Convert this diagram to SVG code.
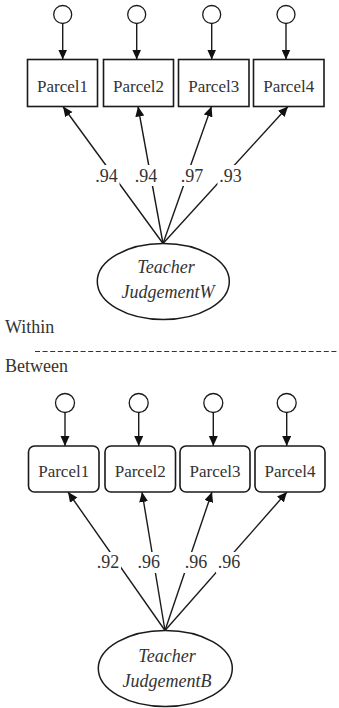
<svg xmlns="http://www.w3.org/2000/svg" width="339" height="708" viewBox="0 0 339 708" font-family="Liberation Serif, DejaVu Serif, serif">
  <style>
    .bg { fill: #ffffff; }
    .err { fill: #ffffff; stroke: #1a1a1a; stroke-width: 1.3; }
    .box { fill: #ffffff; stroke: #1a1a1a; stroke-width: 1.6; }
    .lat { fill: #ffffff; stroke: #1a1a1a; stroke-width: 1.5; }
    .edge { fill: none; stroke: #1a1a1a; stroke-width: 1.4; marker-end: url(#head); }
    .lbl { font-size: 17px; text-anchor: middle; fill: #333333; }
    .coef { font-size: 18px; text-anchor: middle; fill: #333333; }
    .latname { font-size: 18px; font-style: italic; text-anchor: middle; fill: #333333; }
    .level { font-size: 18px; fill: #333333; }
    .knock { fill: #ffffff; stroke: none; }
  </style>
  <defs>
    <marker id="head" markerUnits="userSpaceOnUse" markerWidth="11" markerHeight="10" refX="10" refY="4.5" orient="auto">
      <path d="M0,0 L10,4.5 L0,9 z" fill="#111111"/>
    </marker>
  </defs>

  <rect class="bg" x="0" y="0" width="339" height="708"/>

  <!-- connectors -->
  <g id="connectors">
    <!-- within level: residual arrows -->
    <line class="edge" x1="62.7" y1="23.5" x2="62.7" y2="59.5"/>
    <line class="edge" x1="136.7" y1="23.5" x2="136.7" y2="59.5"/>
    <line class="edge" x1="211.7" y1="23.5" x2="211.7" y2="59.5"/>
    <line class="edge" x1="286" y1="23.5" x2="286" y2="59.5"/>
    <!-- within level: loadings -->
    <line class="edge" x1="163" y1="243.5" x2="63" y2="106.5"/>
    <line class="edge" x1="163" y1="243.5" x2="138" y2="106.5"/>
    <line class="edge" x1="163" y1="243.5" x2="211.5" y2="106.5"/>
    <line class="edge" x1="163" y1="243.5" x2="288" y2="106.5"/>

    <!-- between level: residual arrows -->
    <line class="edge" x1="65" y1="412.5" x2="65" y2="446"/>
    <line class="edge" x1="138.7" y1="412.5" x2="138.7" y2="446"/>
    <line class="edge" x1="213.3" y1="412.5" x2="213.3" y2="446"/>
    <line class="edge" x1="286.7" y1="412.5" x2="286.7" y2="446"/>
    <!-- between level: loadings -->
    <line class="edge" x1="165" y1="630.5" x2="68" y2="492"/>
    <line class="edge" x1="165" y1="630.5" x2="142" y2="492"/>
    <line class="edge" x1="165" y1="630.5" x2="212" y2="492"/>
    <line class="edge" x1="165" y1="630.5" x2="287" y2="492"/>

    <!-- level separator -->
    <line x1="35" y1="351.5" x2="339" y2="351.5" stroke="#333333" stroke-width="1" stroke-dasharray="5 2.6"/>
  </g>

  <!-- loading labels (within) -->
  <g id="loadings-within">
    <rect class="knock" x="93.5" y="165" width="26" height="21"/>
    <text class="coef" x="106.5" y="181.7">.94</text>
    <rect class="knock" x="133" y="165" width="26" height="21"/>
    <text class="coef" x="146" y="181.7">.94</text>
    <rect class="knock" x="179" y="165" width="26" height="21"/>
    <text class="coef" x="192" y="181.7">.97</text>
    <rect class="knock" x="217.5" y="165" width="26" height="21"/>
    <text class="coef" x="230.5" y="181.7">.93</text>
  </g>

  <!-- loading labels (between) -->
  <g id="loadings-between">
    <rect class="knock" x="95" y="552" width="26" height="21"/>
    <text class="coef" x="108" y="568.3">.92</text>
    <rect class="knock" x="135.7" y="552" width="26" height="21"/>
    <text class="coef" x="148.7" y="568.3">.96</text>
    <rect class="knock" x="183" y="552" width="26" height="21"/>
    <text class="coef" x="196" y="568.3">.96</text>
    <rect class="knock" x="216" y="552" width="26" height="21"/>
    <text class="coef" x="229" y="568.3">.96</text>
  </g>

  <!-- within level nodes -->
  <g id="eW1"><circle class="err" cx="62.7" cy="14.5" r="9"/></g>
  <g id="eW2"><circle class="err" cx="136.7" cy="14.5" r="9"/></g>
  <g id="eW3"><circle class="err" cx="211.7" cy="14.5" r="9"/></g>
  <g id="eW4"><circle class="err" cx="286" cy="14.5" r="9"/></g>

  <g id="parcelW1"><rect class="box" x="27.5" y="59.5" width="70" height="47"/><text class="lbl" x="62.5" y="92">Parcel1</text></g>
  <g id="parcelW2"><rect class="box" x="103.5" y="59.5" width="70" height="47"/><text class="lbl" x="138.5" y="92">Parcel2</text></g>
  <g id="parcelW3"><rect class="box" x="178.5" y="59.5" width="70.5" height="47"/><text class="lbl" x="213.7" y="92">Parcel3</text></g>
  <g id="parcelW4"><rect class="box" x="253.5" y="59.5" width="70.5" height="47"/><text class="lbl" x="288.7" y="92">Parcel4</text></g>

  <g id="teacherW">
    <ellipse class="lat" cx="163.3" cy="281.5" rx="66" ry="38"/>
    <text class="latname" x="166" y="273.3">Teacher</text>
    <text class="latname" x="168" y="298.3">JudgementW</text>
  </g>

  <!-- level captions -->
  <g id="within"><text class="level" x="5" y="333.3">Within</text></g>
  <g id="between"><text class="level" x="5" y="371.7">Between</text></g>

  <!-- between level nodes -->
  <g id="eB1"><circle class="err" cx="65" cy="403" r="9.5"/></g>
  <g id="eB2"><circle class="err" cx="138.7" cy="403" r="9.5"/></g>
  <g id="eB3"><circle class="err" cx="213.3" cy="403" r="9.5"/></g>
  <g id="eB4"><circle class="err" cx="286.7" cy="403" r="9.5"/></g>

  <g id="parcelB1"><rect class="box" x="28.5" y="446" width="70.5" height="46" rx="6"/><text class="lbl" x="63.7" y="476.7">Parcel1</text></g>
  <g id="parcelB2"><rect class="box" x="105" y="446" width="70.5" height="46" rx="6"/><text class="lbl" x="140.2" y="476.7">Parcel2</text></g>
  <g id="parcelB3"><rect class="box" x="180" y="446" width="70" height="46" rx="6"/><text class="lbl" x="215" y="476.7">Parcel3</text></g>
  <g id="parcelB4"><rect class="box" x="255" y="446" width="70" height="46" rx="6"/><text class="lbl" x="290" y="476.7">Parcel4</text></g>

  <g id="teacherB">
    <ellipse class="lat" cx="165.3" cy="668.5" rx="67" ry="38"/>
    <text class="latname" x="167" y="661.7">Teacher</text>
    <text class="latname" x="167" y="686.7">JudgementB</text>
  </g>
</svg>
